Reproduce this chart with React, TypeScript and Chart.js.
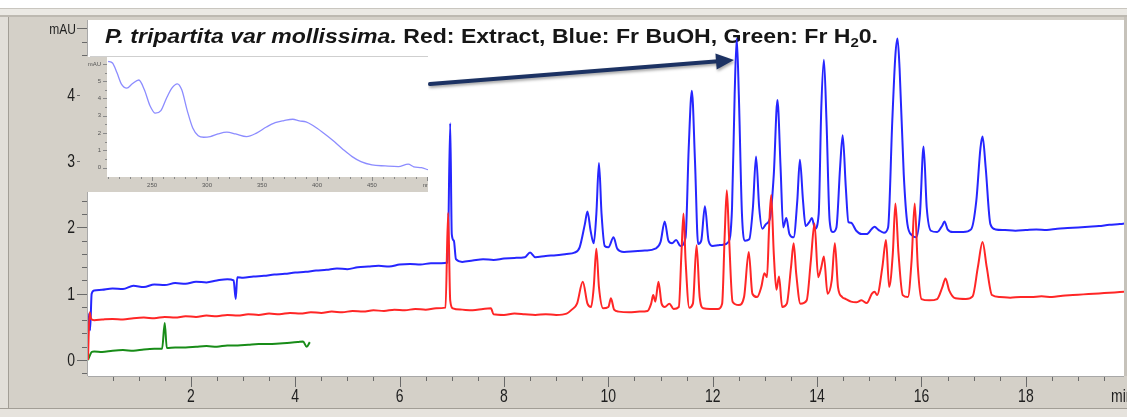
import React, { useEffect, useRef } from "react";
import { Chart, registerables } from "chart.js";

Chart.register(...registerables);

// ---------------- Chromatogram data (time in min, absorbance in mAU) ----------------
const blueTime = [
  0.03, 0.05, 0.07, 0.1, 0.15, 0.3, 0.5, 0.7, 0.9, 1.1, 1.3, 1.5, 1.7, 1.9, 2.1, 2.3, 2.5, 2.7, 2.82, 2.86, 2.89,
  3.0, 3.2, 3.4, 3.6, 3.8, 4.0, 4.2, 4.4, 4.6, 4.8, 5.0, 5.2, 5.4, 5.6, 5.8, 6.0, 6.2, 6.4, 6.6, 6.8, 6.92, 6.97,
  7.0, 7.04, 7.08, 7.2, 7.4, 7.6, 7.8, 8.0, 8.2, 8.4, 8.5, 8.6, 8.8, 9.0, 9.2, 9.35, 9.45, 9.55, 9.6, 9.66, 9.72,
  9.77, 9.82, 9.87, 9.93, 10.0, 10.1, 10.17, 10.3, 10.5, 10.7, 10.9, 11.0, 11.08, 11.15, 11.22, 11.3, 11.38,
  11.48, 11.54, 11.6, 11.66, 11.72, 11.78, 11.85, 11.92, 12.0, 12.1, 12.2, 12.3, 12.37, 12.42, 12.46, 12.5,
  12.56, 12.62, 12.7, 12.77, 12.83, 12.89, 12.95, 13.02, 13.1, 13.17, 13.24, 13.3, 13.35, 13.41, 13.47, 13.55,
  13.62, 13.67, 13.73, 13.78, 13.85, 13.9, 13.96, 14.03, 14.08, 14.13, 14.18, 14.24, 14.3, 14.37, 14.44, 14.49,
  14.55, 14.6, 14.65, 14.75, 14.85, 14.95, 15.05, 15.1, 15.18, 15.28, 15.36, 15.44, 15.5, 15.54, 15.58, 15.66,
  15.73, 15.82, 15.9, 15.97, 16.04, 16.1, 16.18, 16.3, 16.4, 16.44, 16.5, 16.6, 16.8, 16.95, 17.05, 17.13,
  17.17, 17.23, 17.32, 17.42, 17.6, 17.8, 18.0, 18.2, 18.4, 18.6, 18.8, 19.0, 19.2, 19.4, 19.6, 19.8, 19.9,
];
const blueValue = [
  0.35, 0.7, 0.45, 1.0, 1.05, 1.06, 1.08, 1.07, 1.12, 1.1, 1.14, 1.13, 1.16, 1.15, 1.18, 1.17, 1.2, 1.22, 1.2, 0.92, 1.25,
  1.24, 1.26, 1.27, 1.29, 1.3, 1.32, 1.33, 1.35, 1.36, 1.38, 1.37, 1.4, 1.41, 1.42, 1.41, 1.44, 1.45, 1.44, 1.46, 1.46, 1.47, 3.57,
  1.9, 1.8, 1.52, 1.48, 1.5, 1.52, 1.51, 1.53, 1.54, 1.55, 1.62, 1.55, 1.57, 1.58, 1.6, 1.62, 1.7, 2.05, 2.24, 1.95, 1.76,
  2.2, 2.97, 2.2, 1.72, 1.7, 1.85, 1.68, 1.63, 1.64, 1.65, 1.68, 1.78, 2.09, 1.8, 1.76, 1.81, 1.72,
  1.85, 3.2, 4.06, 3.0, 1.75, 1.8, 2.32, 1.8, 1.72, 1.73, 1.74, 1.78, 2.3, 4.0, 4.85, 4.0,
  2.2, 1.8, 1.82, 2.3, 3.07, 2.3, 1.98, 2.05, 2.15, 2.8, 3.92, 2.9, 2.0, 2.14, 1.9, 1.85,
  2.4, 3.02, 2.4, 2.02, 2.08, 2.14, 1.98, 2.2, 3.8, 4.53, 3.6, 2.1, 1.93, 2.0, 2.9, 3.39,
  2.6, 2.08, 2.07, 1.95, 1.9, 1.9, 1.98, 2.01, 1.96, 1.92, 2.0, 3.6, 4.6, 4.85, 4.4, 2.8,
  2.05, 1.88, 1.85, 2.2, 3.22, 2.3, 1.95, 1.93, 2.03, 2.09, 1.97, 1.93, 1.93, 1.97, 2.4, 3.2,
  3.37, 2.9, 2.05, 1.97, 1.96, 1.95, 1.96, 1.97, 1.96, 1.98, 1.99, 2.0, 2.01, 2.02, 2.04, 2.05, 2.06,
];

const redTime = [
  0.03, 0.06, 0.09, 0.15, 0.3, 0.5, 0.7, 0.9, 1.1, 1.3, 1.5, 1.7, 1.9, 2.1, 2.3, 2.5, 2.7, 2.9, 3.1, 3.3, 3.5, 3.7,
  3.9, 4.1, 4.3, 4.5, 4.7, 4.9, 5.1, 5.3, 5.5, 5.7, 5.9, 6.1, 6.3, 6.5, 6.7, 6.88, 6.93, 6.97, 7.02, 7.2, 7.4, 7.6,
  7.75, 7.8, 8.0, 8.2, 8.4, 8.6, 8.8, 9.0, 9.2, 9.3, 9.4, 9.51, 9.6, 9.67, 9.72, 9.77, 9.82, 9.9, 10.0, 10.05,
  10.11, 10.2, 10.4, 10.6, 10.75, 10.82, 10.86, 10.9, 10.96, 11.02, 11.08, 11.17, 11.25, 11.35, 11.4, 11.44,
  11.48, 11.55, 11.62, 11.69, 11.75, 11.82, 11.95, 12.1, 12.18, 12.23, 12.27, 12.31, 12.38, 12.5, 12.6, 12.69,
  12.76, 12.85, 12.93, 12.99, 13.04, 13.08, 13.12, 13.17, 13.22, 13.27, 13.33, 13.42, 13.5, 13.55, 13.6, 13.68,
  13.8, 13.88, 13.95, 14.02, 14.08, 14.13, 14.2, 14.28, 14.34, 14.4, 14.48, 14.55, 14.65, 14.75, 14.85, 14.95,
  15.05, 15.1, 15.15, 15.25, 15.32, 15.38, 15.45, 15.5, 15.56, 15.64, 15.74, 15.81, 15.87, 15.93, 16.0, 16.15,
  16.3, 16.4, 16.46, 16.53, 16.65, 16.85, 16.98, 17.08, 17.17, 17.25, 17.35, 17.5, 17.7, 17.9, 18.1, 18.3, 18.5,
  18.7, 18.9, 19.1, 19.3, 19.5, 19.7, 19.9,
];
const redValue = [
  0.0, 0.72, 0.62, 0.6, 0.61, 0.62, 0.61, 0.63, 0.64, 0.63, 0.65, 0.64, 0.66, 0.65, 0.67, 0.66, 0.68, 0.67, 0.69, 0.68, 0.7, 0.69,
  0.71, 0.7, 0.72, 0.71, 0.73, 0.72, 0.74, 0.73, 0.75, 0.74, 0.76, 0.75, 0.77, 0.76, 0.78, 0.79, 2.22, 0.9, 0.78, 0.76, 0.75, 0.77,
  0.78, 0.69, 0.68, 0.7, 0.69, 0.68, 0.69, 0.68, 0.7, 0.76, 0.85, 1.18, 0.85, 0.8, 1.1, 1.68, 1.1, 0.78, 0.8, 0.93,
  0.76, 0.73, 0.72, 0.73, 0.74, 0.85, 0.98, 0.88, 1.18, 0.85, 0.8, 0.85, 0.77, 0.8, 1.6, 2.21,
  1.5, 0.79, 0.85, 1.73, 0.95, 0.78, 0.77, 0.77, 0.85, 1.9, 2.56, 1.9, 0.88, 0.83, 0.95, 1.63,
  1.0, 0.95, 1.1, 1.31, 1.25, 2.0, 2.49, 1.6, 1.06, 1.26, 0.8, 0.85, 1.4, 1.76, 1.3, 0.85,
  0.9, 1.5, 2.06, 1.25, 1.4, 1.56, 1.0, 1.2, 1.76, 1.1, 0.95, 0.92, 0.88, 0.87, 0.9, 0.86,
  1.0, 1.03, 0.98, 1.4, 1.81, 1.1, 1.6, 2.36, 1.6, 0.98, 0.95, 1.5, 2.36, 1.4, 0.92, 0.9,
  0.92, 1.1, 1.23, 1.05, 0.93, 0.92, 0.96, 1.4, 1.78, 1.4, 0.98, 0.95, 0.94, 0.95, 0.95, 0.96, 0.95,
  0.97, 0.98, 0.99, 1.0, 1.01, 1.02, 1.03,
];

const greenTime = [
  0.03, 0.06, 0.1, 0.15, 0.3, 0.5, 0.7, 0.9, 1.1, 1.3, 1.45, 1.5, 1.54, 1.7, 1.9, 2.1, 2.3, 2.5, 2.7, 2.9, 3.1,
  3.3, 3.5, 3.7, 3.9, 4.05, 4.15, 4.22, 4.28,
];
const greenValue = [
  0.0, 0.06, 0.12, 0.13, 0.12, 0.14, 0.15, 0.14, 0.16, 0.17, 0.17, 0.56, 0.18, 0.19, 0.19, 0.2, 0.21, 0.2, 0.22, 0.22, 0.23,
  0.24, 0.24, 0.25, 0.26, 0.27, 0.28, 0.2, 0.27,
];

const xTickValues = [2, 4, 6, 8, 10, 12, 14, 16, 18];
const xTickLabels = ["2", "4", "6", "8", "10", "12", "14", "16", "18"];
const xUnitLabel = "min";
const yTickValues = [0, 1, 2, 3, 4, 5];
const yTickLabels = ["0", "1", "2", "3", "4", "mAU"];

// ---------------- Inset UV spectrum ----------------
const insetNm = [
  210, 214, 218, 222, 227, 232, 238, 243, 248, 253, 258, 263, 268, 273, 277, 282, 287, 292, 297, 303, 310, 318,
  326, 336, 345, 354, 362, 370, 378, 384, 390, 396, 405, 414, 423, 432, 440, 450, 462, 474, 483, 488, 495, 501,
];
const insetAbs = [
  6.15, 6.05, 5.5, 4.85, 4.6, 4.85, 5.07, 4.5, 3.6, 3.15, 3.3, 4.0, 4.6, 4.85, 4.5, 3.3, 2.3, 1.85, 1.76, 1.8, 1.95, 2.05,
  1.95, 1.8, 2.0, 2.35, 2.6, 2.72, 2.8, 2.7, 2.65, 2.45, 2.05, 1.6, 1.1, 0.64, 0.35, 0.16, 0.1, 0.06, 0.2, 0.05, 0.0, -0.12,
];
const insetXTickValues = [250, 300, 350, 400, 450, 500];
const insetXTickLabels = ["250", "300", "350", "400", "450", "nm"];
const insetYTickValues = [0, 1, 2, 3, 4, 5, 6];
const insetYTickLabels = ["0", "1", "2", "3", "4", "5", "mAU"];

const titleItalic = "P. tripartita var mollissima.";
const titleRest = " Red: Extract, Blue: Fr BuOH, Green: Fr H";
const titleSub = "2";
const titleEnd = "0.";

const FONT = "'Liberation Sans', Arial, Helvetica, sans-serif";
const GRAY = "#d4d0c8";

function pts(xs: number[], ys: number[]) {
  return xs.map((x, i) => ({ x, y: ys[i] }));
}

function label(ctx: CanvasRenderingContext2D, text: string, x: number, y: number, align: CanvasTextAlign, sy: number) {
  ctx.save();
  ctx.translate(x, y);
  ctx.scale(1, sy);
  ctx.textAlign = align;
  ctx.textBaseline = "middle";
  ctx.fillText(text, 0, 0);
  ctx.restore();
}

const mainChrome = {
  id: "mainChrome",
  beforeDraw(chart: any) {
    const { ctx, width, height, chartArea: a } = chart;
    ctx.save();
    ctx.fillStyle = GRAY;
    ctx.fillRect(0, 0, width, height);
    // top window strip
    ctx.fillStyle = "#ffffff";
    ctx.fillRect(0, 0, width, 8);
    ctx.fillStyle = "#c9c6bf";
    ctx.fillRect(0, 8, width, 1);
    ctx.fillStyle = "#ebe9e4";
    ctx.fillRect(0, 9, width, 6);
    ctx.fillStyle = "#bdb9b1";
    ctx.fillRect(0, 15, width, 2);
    // left border
    ctx.fillStyle = "#e2dfd9";
    ctx.fillRect(0, 17, 8, 392);
    ctx.fillStyle = "#a29e96";
    ctx.fillRect(8, 17, 1, 392);
    // bottom border
    ctx.fillStyle = "#a29e96";
    ctx.fillRect(0, 408, width, 1);
    ctx.fillStyle = "#e6e3dd";
    ctx.fillRect(0, 409, width, height - 409);
    // right border
    ctx.fillStyle = "#c6c2ba";
    ctx.fillRect(a.right, 17, width - a.right, a.bottom - 17);
    // plot area
    ctx.fillStyle = "#ffffff";
    ctx.fillRect(a.left, a.top, a.right - a.left, a.bottom - a.top);
    ctx.restore();
  },
  beforeDatasetsDraw(chart: any) {
    const { ctx } = chart;
    ctx.save();
    ctx.fillStyle = "#161616";
    ctx.textBaseline = "alphabetic";
    const fI = `italic bold 20px ${FONT}`;
    const fB = `bold 20px ${FONT}`;
    const fS = `bold 13px ${FONT}`;
    ctx.font = fI;
    const w1 = ctx.measureText(titleItalic).width;
    ctx.font = fB;
    const w2 = ctx.measureText(titleRest).width;
    const w4 = ctx.measureText(titleEnd).width;
    ctx.font = fS;
    const w3 = ctx.measureText(titleSub).width;
    const sx = (878 - 105) / (w1 + w2 + w3 + w4);
    ctx.translate(105, 43);
    ctx.scale(sx, 1);
    ctx.font = fI;
    ctx.fillText(titleItalic, 0, 0);
    ctx.font = fB;
    ctx.fillText(titleRest, w1, 0);
    ctx.font = fS;
    ctx.fillText(titleSub, w1 + w2, 4);
    ctx.font = fB;
    ctx.fillText(titleEnd, w1 + w2 + w3, 0);
    ctx.restore();
  },
  afterDatasetsDraw(chart: any) {
    const { ctx } = chart;
    // arrow
    const x0 = 430, y0 = 84, x1 = 734, y1 = 60;
    const ang = Math.atan2(y1 - y0, x1 - x0);
    const hl = 18, hw = 8;
    const bx = x1 - hl * Math.cos(ang), by = y1 - hl * Math.sin(ang);
    ctx.save();
    ctx.shadowColor = "rgba(0,0,0,0.35)";
    ctx.shadowBlur = 3;
    ctx.shadowOffsetX = 1;
    ctx.shadowOffsetY = 2;
    ctx.strokeStyle = "#1c3263";
    ctx.fillStyle = "#1c3263";
    ctx.lineWidth = 4;
    ctx.lineCap = "round";
    ctx.beginPath();
    ctx.moveTo(x0, y0);
    ctx.lineTo(bx + 2 * Math.cos(ang), by + 2 * Math.sin(ang));
    ctx.stroke();
    ctx.beginPath();
    ctx.moveTo(x1, y1);
    ctx.lineTo(bx + hw * Math.sin(ang), by - hw * Math.cos(ang));
    ctx.lineTo(bx - hw * Math.sin(ang), by + hw * Math.cos(ang));
    ctx.closePath();
    ctx.fill();
    ctx.restore();
  },
  afterDraw(chart: any) {
    const { ctx, chartArea: a } = chart;
    const xs = chart.scales.x;
    const ys = chart.scales.y;
    ctx.save();
    // axis boundary lines
    ctx.fillStyle = "#a8a8a8";
    ctx.fillRect(a.left, a.bottom, a.right - a.left, 1);
    ctx.fillRect(a.left - 1, a.top, 1, a.bottom - a.top);
    // x ticks
    ctx.strokeStyle = "#6a6a6a";
    ctx.lineWidth = 1;
    for (let k = 1; k <= 39; k++) {
      const v = k * 0.5;
      const x = Math.round(xs.getPixelForValue(v)) + 0.5;
      if (x > a.right) continue;
      const major = k % 4 === 0;
      ctx.beginPath();
      ctx.moveTo(x, a.bottom + 1);
      ctx.lineTo(x, a.bottom + (major ? 11 : 5));
      ctx.stroke();
    }
    // y ticks
    for (let k = -1; k <= 25; k++) {
      const v = k * 0.2;
      const y = Math.round(ys.getPixelForValue(v)) + 0.5;
      const major = k % 5 === 0;
      ctx.beginPath();
      ctx.moveTo(major ? 77 : 82, y);
      ctx.lineTo(87, y);
      ctx.stroke();
    }
    ctx.fillStyle = "#1e1e1e";
    ctx.font = `14px ${FONT}`;
    xTickValues.forEach((v, i) => {
      label(ctx, xTickLabels[i], xs.getPixelForValue(v), 397, "center", 1.3);
    });
    label(ctx, xUnitLabel, 1111, 397, "left", 1.3);
    yTickValues.forEach((v, i) => {
      const y = ys.getPixelForValue(v);
      if (yTickLabels[i] === "mAU") {
        ctx.font = `12px ${FONT}`;
        label(ctx, yTickLabels[i], 76, y + 2, "right", 1.15);
        ctx.font = `14px ${FONT}`;
      } else {
        label(ctx, yTickLabels[i], 75, y + 1, "right", 1.3);
      }
    });
    ctx.restore();
  },
};

const insetChrome = {
  id: "insetChrome",
  beforeDraw(chart: any) {
    const { ctx, width, height, chartArea: a } = chart;
    ctx.save();
    ctx.fillStyle = GRAY;
    ctx.fillRect(0, 0, width, height);
    ctx.fillStyle = "#ffffff";
    ctx.fillRect(8, 0, width - 8, 1);
    ctx.fillRect(a.left, a.top, a.right - a.left, a.bottom - a.top);
    ctx.fillStyle = "#cfcfcf";
    ctx.fillRect(10, 0, width - 10, 1);
    ctx.restore();
  },
  afterDraw(chart: any) {
    const { ctx, chartArea: a } = chart;
    const xs = chart.scales.x;
    const ys = chart.scales.y;
    ctx.save();
    ctx.strokeStyle = "#8a8a8a";
    ctx.lineWidth = 1;
    for (let nm = 210; nm <= 500; nm += 10) {
      const x = Math.round(xs.getPixelForValue(nm)) + 0.5;
      const major = nm % 50 === 0;
      ctx.beginPath();
      ctx.moveTo(x, a.bottom);
      ctx.lineTo(x, a.bottom + (major ? 4 : 2));
      ctx.stroke();
    }
    for (let k = 0; k <= 12; k++) {
      const y = Math.round(ys.getPixelForValue(k * 0.5)) + 0.5;
      const major = k % 2 === 0;
      ctx.beginPath();
      ctx.moveTo(a.left - (major ? 4 : 2), y);
      ctx.lineTo(a.left, y);
      ctx.stroke();
    }
    ctx.fillStyle = "#555555";
    ctx.font = `6px ${FONT}`;
    insetXTickValues.forEach((v, i) => {
      label(ctx, insetXTickLabels[i], xs.getPixelForValue(v), a.bottom + 8, "center", 1);
    });
    insetYTickValues.forEach((v, i) => {
      label(ctx, insetYTickLabels[i], a.left - 6, ys.getPixelForValue(v), "right", 1);
    });
    ctx.restore();
  },
};

export default function App() {
  const mainRef = useRef<HTMLCanvasElement>(null);
  const insetRef = useRef<HTMLCanvasElement>(null);

  useEffect(() => {
    const common = {
      borderWidth: 2,
      pointRadius: 0,
      fill: false,
      cubicInterpolationMode: "monotone" as const,
    };
    const main = new Chart(mainRef.current as HTMLCanvasElement, {
      type: "line",
      data: {
        datasets: [
          { label: "Extract", data: pts(redTime, redValue), borderColor: "rgb(255,38,38)", ...common },
          { label: "Fr BuOH", data: pts(blueTime, blueValue), borderColor: "rgb(38,38,255)", ...common },
          { label: "Fr H2O", data: pts(greenTime, greenValue), borderColor: "rgb(24,140,24)", ...common },
        ],
      },
      options: {
        responsive: false,
        maintainAspectRatio: false,
        animation: false,
        events: [],
        layout: { padding: { left: 88, top: 20, right: 3, bottom: 41 } },
        scales: {
          x: { type: "linear", min: 0.03, max: 19.88, display: false },
          y: { type: "linear", min: -0.241, max: 5.128, display: false },
        },
        plugins: { legend: { display: false }, tooltip: { enabled: false }, title: { display: false } },
      },
      plugins: [mainChrome],
    } as any);

    const inset = new Chart(insetRef.current as HTMLCanvasElement, {
      type: "line",
      data: {
        datasets: [
          {
            label: "UV spectrum",
            data: pts(insetNm, insetAbs),
            borderColor: "rgb(140,140,255)",
            borderWidth: 1.3,
            pointRadius: 0,
            fill: false,
            cubicInterpolationMode: "monotone",
          },
        ],
      },
      options: {
        responsive: false,
        maintainAspectRatio: false,
        animation: false,
        events: [],
        layout: { padding: { left: 27, top: 1, right: 0, bottom: 15 } },
        scales: {
          x: { type: "linear", min: 209, max: 501, display: false },
          y: { type: "linear", min: -0.54, max: 6.4, display: false },
        },
        plugins: { legend: { display: false }, tooltip: { enabled: false } },
      },
      plugins: [insetChrome],
    } as any);

    return () => {
      main.destroy();
      inset.destroy();
    };
  }, []);

  return (
    <div style={{ position: "absolute", left: 0, top: 0, width: 1127, height: 417, overflow: "hidden" }}>
      <canvas
        ref={mainRef}
        width={1127}
        height={417}
        style={{ position: "absolute", left: 0, top: 0, width: 1127, height: 417 }}
      />
      <canvas
        ref={insetRef}
        width={348}
        height={136}
        style={{ position: "absolute", left: 80, top: 56, width: 348, height: 136 }}
      />
    </div>
  );
}
